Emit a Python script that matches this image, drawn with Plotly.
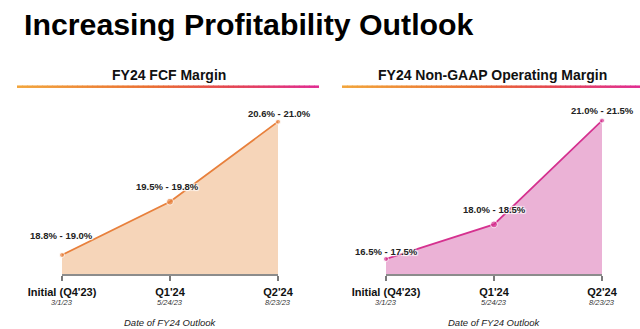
import plotly.graph_objects as go

# Outlook periods and the date each FY24 outlook was issued
periods = ["Initial (Q4'23)", "Q1'24", "Q2'24"]
dates = ["3/1/23", "5/24/23", "8/23/23"]

# FY24 free-cash-flow margin guidance range (%)
fcf_low = [18.8, 19.5, 20.6]
fcf_high = [19.0, 19.8, 21.0]

# FY24 non-GAAP operating margin guidance range (%)
opm_low = [16.5, 18.0, 21.0]
opm_high = [17.5, 18.5, 21.5]

W, H = 640, 329
FONT = "Liberation Sans, Arial, Helvetica, sans-serif"


def px_x(p):
    return p / W


def px_y(p):
    return (H - p) / H


panels = [
    dict(title="FY24 FCF Margin", low=fcf_low, high=fcf_high,
         line="#E8803C", fill="#F6D5B9", dom=(62, 278), yrange=(18.715, 21.326),
         bar=(17, 319), head_x=169, lbl_off=[(-1, 20), (-3, 15), (1, 8)]),
    dict(title="FY24 Non-GAAP Operating Margin", low=opm_low, high=opm_high,
         line="#D5318F", fill="#EBB2D6", dom=(386, 602), yrange=(17.066, 22.095),
         bar=(342, 640), head_x=492, lbl_off=[(0.5, 7), (0, 15), (0.7, 10)]),
]

fig = go.Figure()
annotations = []
shapes = []

grad_stops = [(0.0, (242, 165, 58)), (0.45, (234, 110, 50)),
              (0.7, (228, 70, 80)), (1.0, (224, 42, 146))]


def grad_color(t):
    for (t0, c0), (t1, c1) in zip(grad_stops[:-1], grad_stops[1:]):
        if t <= t1:
            f = (t - t0) / (t1 - t0) if t1 > t0 else 0
            c = [round(a + (b - a) * f) for a, b in zip(c0, c1)]
            return f"rgb({c[0]},{c[1]},{c[2]})"
    c = grad_stops[-1][1]
    return f"rgb({c[0]},{c[1]},{c[2]})"


for i, p in enumerate(panels):
    ax = "" if i == 0 else str(i + 1)
    xs = list(range(len(periods)))
    fig.add_trace(go.Scatter(
        x=xs, y=p["high"], xaxis="x" + ax, yaxis="y" + ax,
        mode="lines+markers", fill="tozeroy", fillcolor=p["fill"],
        line=dict(color=p["line"], width=1.8),
        marker=dict(color=p["line"], size=[5, 7, 5]),
        cliponaxis=False, hoverinfo="skip", showlegend=False,
    ))
    d0, d1 = p["dom"]
    fig.update_layout(**{
        "xaxis" + ax: dict(
            domain=[px_x(d0), px_x(d1)], range=[0, 2],
            tickvals=xs, ticktext=[f"<b>{t}</b>" for t in periods],
            tickfont=dict(family=FONT, size=11, color="#111111"),
            ticks="outside", ticklen=5, tickwidth=1.5, tickcolor="#7a7a7a",
            showline=True, linecolor="#8c8c8c", linewidth=2,
            showgrid=False, zeroline=False, fixedrange=True,
            ticklabelstandoff=2, automargin=False,
        ),
        "yaxis" + ax: dict(
            domain=[px_y(274), px_y(100)], range=list(p["yrange"]),
            visible=False, fixedrange=True, automargin=False,
        ),
    })
    # value range labels above each point
    for j, (lo, hi) in enumerate(zip(p["low"], p["high"])):
        dx, dy = p["lbl_off"][j]
        annotations.append(dict(
            x=j, y=hi, xref="x" + ax, yref="y" + ax,
            text=f"<b>{lo:.1f}% - {hi:.1f}%</b>", showarrow=False,
            xanchor="center", yanchor="middle", xshift=dx, yshift=dy,
            font=dict(family=FONT, size=9.5, color="#222222",
                      shadow="1px 1px 1px #fff, -1px -1px 1px #fff, 1px -1px 1px #fff, -1px 1px 1px #fff"),
        ))
    # outlook dates under the period labels
    for j, dt in enumerate(dates):
        annotations.append(dict(
            x=j, y=px_y(302), xref="x" + ax, yref="paper",
            text=f"<i>{dt}</i>", showarrow=False,
            xanchor="center", yanchor="middle",
            font=dict(family=FONT, size=7.5, color="#333333"),
        ))
    # axis caption
    annotations.append(dict(
        x=px_x((d0 + d1) / 2), y=px_y(322), xref="paper", yref="paper",
        text="<i>Date of FY24 Outlook</i>", showarrow=False,
        xanchor="center", yanchor="middle",
        font=dict(family=FONT, size=9.5, color="#222222"),
    ))
    # panel heading
    b0, b1 = p["bar"]
    annotations.append(dict(
        x=px_x(p["head_x"]), y=px_y(75), xref="paper", yref="paper",
        text=f"<b>{p['title']}</b>", showarrow=False,
        xanchor="center", yanchor="middle",
        font=dict(family=FONT, size=14, color="#111111"),
    ))
    # gradient rule under the heading
    n = 60
    for k in range(n):
        xa = b0 + (b1 - b0) * k / n
        xb = b0 + (b1 - b0) * (k + 1) / n + 0.6
        shapes.append(dict(
            type="line", xref="paper", yref="paper",
            x0=px_x(xa), x1=px_x(min(xb, b1)), y0=px_y(86.7), y1=px_y(86.7),
            line=dict(color=grad_color((k + 0.5) / n), width=2.5),
        ))

annotations.append(dict(
    x=px_x(22), y=px_y(25), xref="paper", yref="paper",
    text="<b>Increasing Profitability Outlook</b>", showarrow=False,
    xanchor="left", yanchor="middle",
    font=dict(family=FONT, size=30.3, color="#000000"),
))

fig.update_layout(
    width=W, height=H, margin=dict(l=0, r=0, t=0, b=0, autoexpand=False),
    paper_bgcolor="white", plot_bgcolor="white",
    annotations=annotations, shapes=shapes, showlegend=False,
)

fig.write_html("out.html", config={"displayModeBar": False})
